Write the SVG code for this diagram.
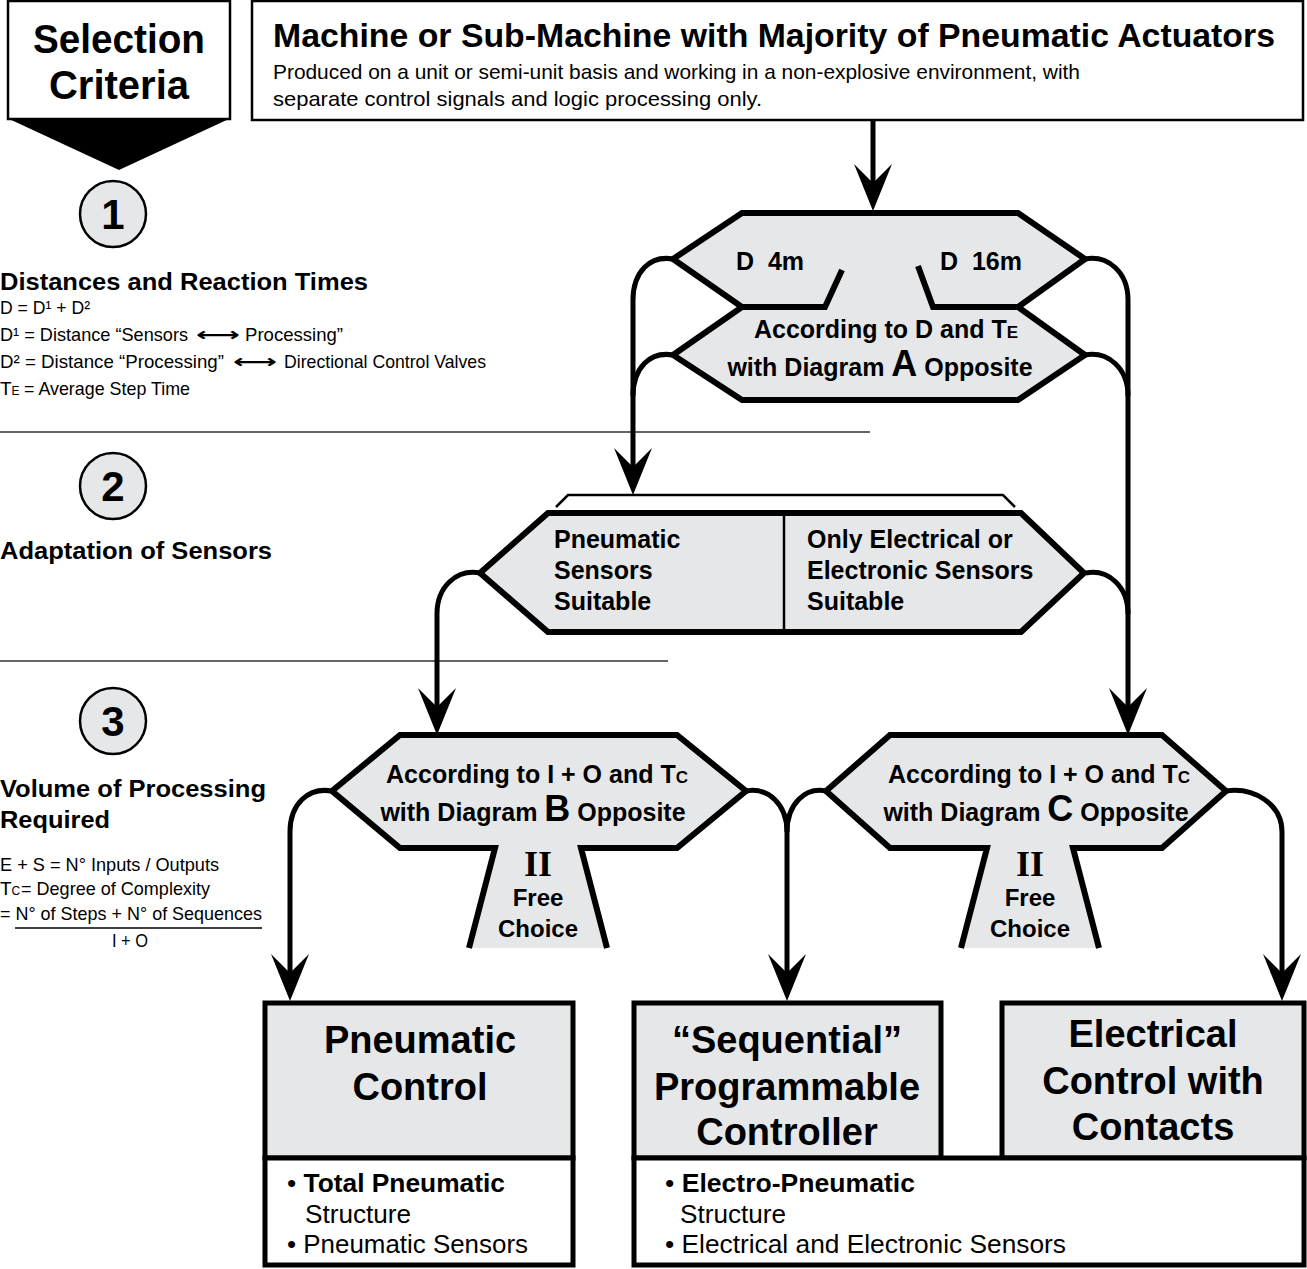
<svg xmlns="http://www.w3.org/2000/svg" width="1307" height="1269" viewBox="0 0 1307 1269">
<defs>
<style>
.hx{fill:#e6e7e8;stroke:#000;stroke-width:6;stroke-linejoin:miter}
.fl{fill:#e6e7e8;stroke:none}
.ed{fill:none;stroke:#000;stroke-width:6;stroke-linejoin:miter}
.ln{fill:none;stroke:#000;stroke-width:5}
.thin{fill:none;stroke:#000;stroke-width:2.5}
.rule{fill:none;stroke:#333;stroke-width:1.5}
.gb{fill:#e6e7e8;stroke:#000;stroke-width:5}
.wb{fill:#fff;stroke:#000;stroke-width:5}
.circ{fill:#e6e7e8;stroke:#000;stroke-width:2.5}
.b{font-family:"Liberation Sans",Arial,Helvetica,sans-serif;font-weight:bold;fill:#000}
.r{font-family:"Liberation Sans",Arial,Helvetica,sans-serif;fill:#000}
.s{font-family:"Liberation Serif","Times New Roman",serif;font-weight:bold;fill:#000}
.m{text-anchor:middle}
.pre{white-space:pre}
</style>
<marker id="ah" markerUnits="userSpaceOnUse" viewBox="0 0 47 38" refX="19" refY="19" markerWidth="47" markerHeight="38" orient="auto">
<path d="M0,0 L47,19 L0,38 L19,19 Z" fill="#000"/>
</marker>
</defs>
<rect x="0" y="0" width="1307" height="1269" fill="#fff"/>

<g id="selection-criteria">
<rect x="8" y="1" width="222" height="118" fill="#fff" stroke="#000" stroke-width="2.5"/>
<polygon points="7,118 231,118 119,170" fill="#000"/>
<text class="b m" x="119" y="53" font-size="40" textLength="172" lengthAdjust="spacingAndGlyphs">Selection</text>
<text class="b m" x="119" y="99" font-size="40">Criteria</text>
</g>

<g id="criteria-panel">
<circle class="circ" cx="113" cy="214" r="33"/>
<text class="b m" x="113" y="229" font-size="42">1</text>
<text class="b" x="0" y="290" font-size="23" textLength="368" lengthAdjust="spacingAndGlyphs">Distances and Reaction Times</text>
<text class="r" x="0" y="314" font-size="19" textLength="90" lengthAdjust="spacingAndGlyphs">D = D¹ + D²</text>
<text class="r" y="341" font-size="19"><tspan x="0" textLength="188" lengthAdjust="spacingAndGlyphs">D¹ = Distance “Sensors</tspan><tspan x="196" font-family="DejaVu Sans" font-weight="bold" textLength="44" lengthAdjust="spacingAndGlyphs">⟷</tspan><tspan x="245" textLength="98" lengthAdjust="spacingAndGlyphs">Processing”</tspan></text>
<text class="r" y="368" font-size="19"><tspan x="0" textLength="224" lengthAdjust="spacingAndGlyphs">D² = Distance “Processing”</tspan><tspan x="233" font-family="DejaVu Sans" font-weight="bold" textLength="44" lengthAdjust="spacingAndGlyphs">⟷</tspan><tspan x="284" textLength="202" lengthAdjust="spacingAndGlyphs">Directional Control Valves</tspan></text>
<text class="r" y="395" font-size="19"><tspan x="0">T</tspan><tspan font-size="12">E</tspan><tspan x="24" textLength="166" lengthAdjust="spacingAndGlyphs">= Average Step Time</tspan></text>
<line class="rule" x1="0" y1="432" x2="870" y2="432"/>

<circle class="circ" cx="113" cy="486" r="33"/>
<text class="b m" x="113" y="501" font-size="42">2</text>
<text class="b" x="0" y="559" font-size="23" textLength="272" lengthAdjust="spacingAndGlyphs">Adaptation of Sensors</text>
<line class="rule" x1="0" y1="661" x2="668" y2="661"/>

<circle class="circ" cx="113" cy="721" r="33"/>
<text class="b m" x="113" y="736" font-size="42">3</text>
<text class="b" x="0" y="797" font-size="23" textLength="266" lengthAdjust="spacingAndGlyphs">Volume of Processing</text>
<text class="b" x="0" y="828" font-size="23" textLength="110" lengthAdjust="spacingAndGlyphs">Required</text>
<text class="r" x="0" y="871" font-size="19" textLength="219" lengthAdjust="spacingAndGlyphs">E + S = N° Inputs / Outputs</text>
<text class="r" y="895" font-size="19"><tspan x="0">T</tspan><tspan font-size="12">C</tspan><tspan x="21" textLength="189" lengthAdjust="spacingAndGlyphs">= Degree of Complexity</tspan></text>
<text class="r" x="0" y="920" font-size="19" textLength="262" lengthAdjust="spacingAndGlyphs">= N° of Steps + N° of Sequences</text>
<line x1="15" y1="928" x2="262" y2="928" stroke="#000" stroke-width="1.5"/>
<text class="r" x="112" y="947" font-size="19" textLength="36" lengthAdjust="spacingAndGlyphs">I + O</text>
</g>

<g id="machine">
<rect x="252" y="1" width="1051" height="119" fill="#fff" stroke="#000" stroke-width="2.5"/>
<text class="b" x="273" y="47" font-size="33" textLength="1002" lengthAdjust="spacingAndGlyphs">Machine or Sub-Machine with Majority of Pneumatic Actuators</text>
<text class="r" x="273" y="79" font-size="21" textLength="807" lengthAdjust="spacingAndGlyphs">Produced on a unit or semi-unit basis and working in a non-explosive environment, with</text>
<text class="r" x="273" y="106" font-size="21" textLength="489" lengthAdjust="spacingAndGlyphs">separate control signals and logic processing only.</text>
</g>

<g id="connectors">
<path class="ln" d="M873,120 L873,183" marker-end="url(#ah)"/>
<path class="ln" d="M673,259 C650,255 633,272 633,300 L633,467" marker-end="url(#ah)"/>
<path class="ln" d="M673,355 C650,351 633,368 633,396"/>
<path class="ln" d="M1085,259 C1108,255 1128,272 1128,300 L1128,707" marker-end="url(#ah)"/>
<path class="ln" d="M1085,355 C1108,351 1128,368 1128,396"/>
<path class="ln" d="M1086,573 C1108,569 1128,586 1128,614"/>
<path class="ln" d="M480,573 C457,569 437,586 437,614 L437,707" marker-end="url(#ah)"/>
<path class="ln" d="M332,791 C308,787 290,804 290,832 L290,973" marker-end="url(#ah)"/>
<path class="ln" d="M746,791 C768,787 787,804 787,832 L787,973" marker-end="url(#ah)"/>
<path class="ln" d="M826,791 C805,787 787,804 787,832"/>
<path class="ln" d="M1226,791 C1254,787 1282,804 1282,832 L1282,973" marker-end="url(#ah)"/>
<polyline class="thin" points="556,507 568,495 1003,495 1015,507"/>
</g>

<g id="decision-distance">
<polygon class="hx" points="742,213 1018,213 1085,259 1018,307 1085,355 1018,400 742,400 673,355 742,307 673,259"/>
<polyline class="ed" points="742,307 825,307 842,270"/>
<polyline class="ed" points="918,266 933,307 1018,307"/>
<text class="b pre" x="736" y="270" font-size="25">D  4m</text>
<text class="b pre" x="940" y="270" font-size="25">D  16m</text>
<text class="b m" x="886" y="338" font-size="25">According to D and T<tspan font-size="17">E</tspan></text>
<text class="b m" x="880" y="376" font-size="25">with Diagram <tspan font-size="36">A</tspan> Opposite</text>
</g>

<g id="decision-sensors">
<polygon class="hx" points="548,513 1021,513 1084,573 1021,632 548,632 480,573"/>
<line x1="784" y1="513" x2="784" y2="632" stroke="#000" stroke-width="2.5"/>
<text class="b" x="554" y="548" font-size="25">Pneumatic</text>
<text class="b" x="554" y="579" font-size="25">Sensors</text>
<text class="b" x="554" y="610" font-size="25">Suitable</text>
<text class="b" x="807" y="548" font-size="25">Only Electrical or</text>
<text class="b" x="807" y="579" font-size="25">Electronic Sensors</text>
<text class="b" x="807" y="610" font-size="25">Suitable</text>
</g>

<g id="decision-b">
<polygon class="fl" points="400,735 677,735 746,791 677,848 581,848 607,948 469,948 495,848 400,848 332,791"/>
<path class="ed" d="M469,948 L495,848 L400,848 L332,791 L400,735 L677,735 L746,791 L677,848 L581,848 L607,948"/>
<text class="b m" x="537" y="783" font-size="25">According to I + O and T<tspan font-size="17">C</tspan></text>
<text class="b m" x="533" y="821" font-size="25">with Diagram <tspan font-size="36">B</tspan> Opposite</text>
<text class="s m" x="538" y="876" font-size="36">II</text>
<text class="b m" x="538" y="906" font-size="24">Free</text>
<text class="b m" x="538" y="937" font-size="24">Choice</text>
</g>

<g id="decision-c">
<polygon class="fl" points="890,735 1162,735 1226,791 1162,848 1073,848 1099,948 961,948 987,848 890,848 826,791"/>
<path class="ed" d="M961,948 L987,848 L890,848 L826,791 L890,735 L1162,735 L1226,791 L1162,848 L1073,848 L1099,948"/>
<text class="b m" x="1039" y="783" font-size="25">According to I + O and T<tspan font-size="17">C</tspan></text>
<text class="b m" x="1036" y="821" font-size="25">with Diagram <tspan font-size="36">C</tspan> Opposite</text>
<text class="s m" x="1030" y="876" font-size="36">II</text>
<text class="b m" x="1030" y="906" font-size="24">Free</text>
<text class="b m" x="1030" y="937" font-size="24">Choice</text>
</g>

<g id="pneumatic-control">
<rect class="gb" x="265" y="1003" width="308" height="155"/>
<rect class="wb" x="265" y="1158" width="308" height="107"/>
<text class="b m" x="420" y="1053" font-size="38">Pneumatic</text>
<text class="b m" x="420" y="1100" font-size="38">Control</text>
<text class="r" x="287" y="1192" font-size="26" textLength="218" lengthAdjust="spacingAndGlyphs">• <tspan class="b">Total Pneumatic</tspan></text>
<text class="r" x="305" y="1223" font-size="26" textLength="106" lengthAdjust="spacingAndGlyphs">Structure</text>
<text class="r" x="287" y="1253" font-size="26" textLength="241" lengthAdjust="spacingAndGlyphs">• Pneumatic Sensors</text>
</g>

<g id="sequential-controller">
<rect class="gb" x="634" y="1003" width="307" height="155"/>
<text class="b m" x="787" y="1053" font-size="38">“Sequential”</text>
<text class="b m" x="787" y="1100" font-size="38">Programmable</text>
<text class="b m" x="787" y="1145" font-size="38">Controller</text>
</g>

<g id="electrical-control">
<rect class="gb" x="1002" y="1003" width="302" height="155"/>
<text class="b m" x="1153" y="1047" font-size="38">Electrical</text>
<text class="b m" x="1153" y="1094" font-size="38">Control with</text>
<text class="b m" x="1153" y="1140" font-size="38">Contacts</text>
</g>

<g id="electro-pneumatic-structure">
<rect class="wb" x="634" y="1158" width="670" height="107"/>
<text class="r" x="665" y="1192" font-size="26" textLength="250" lengthAdjust="spacingAndGlyphs">• <tspan class="b">Electro-Pneumatic</tspan></text>
<text class="r" x="680" y="1223" font-size="26" textLength="106" lengthAdjust="spacingAndGlyphs">Structure</text>
<text class="r" x="665" y="1253" font-size="26" textLength="401" lengthAdjust="spacingAndGlyphs">• Electrical and Electronic Sensors</text>
</g>
</svg>
